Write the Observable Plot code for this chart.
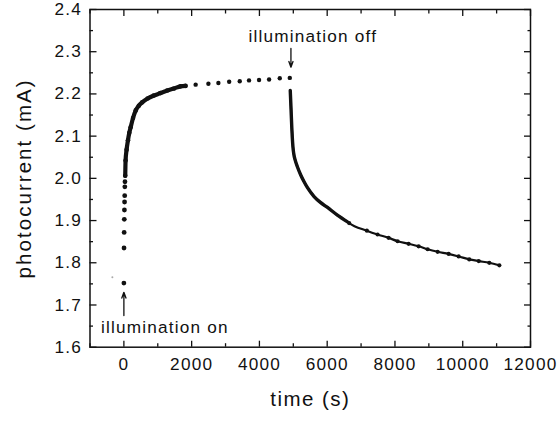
<!DOCTYPE html>
<html>
<head>
<meta charset="utf-8">
<script src="https://cdn.jsdelivr.net/npm/d3@7"></script>
<script src="https://cdn.jsdelivr.net/npm/@observablehq/plot@0.6"></script>
<style>
  html, body { margin: 0; padding: 0; background: #fff; }
  svg text { letter-spacing: 0.07em; }
</style>
</head>
<body>
<div id="chart"></div>
<script>
// ---- data (time in s, photocurrent in mA) ----
const preTime = [-340];
const preVal = [1.766];

const onsetTime = [0, 4, 8, 12, 16, 20, 24, 28, 32];
const onsetVal = [1.752, 1.835, 1.872, 1.903, 1.925, 1.944, 1.959, 1.980, 1.992];

const riseTime = [40, 50, 80, 120, 160, 200, 270, 350, 440, 540, 700, 880, 1080, 1280, 1480, 1670, 1820];
const riseVal = [2.006, 2.042, 2.068, 2.090, 2.108, 2.121, 2.143, 2.161, 2.172, 2.180, 2.189, 2.196, 2.202, 2.208, 2.213, 2.218, 2.219];

const plateauTime = [2118, 2494, 2789, 3107, 3419, 3693, 3989, 4285, 4601, 4896];
const plateauVal = [2.222, 2.224, 2.226, 2.229, 2.230, 2.232, 2.233, 2.234, 2.237, 2.238];

const decayTime = [4910, 4925, 4940, 4955, 4970, 4990, 5010, 5060, 5123, 5219, 5318, 5418, 5613, 5800, 6009, 6300, 6600];
const decayVal = [2.208, 2.180, 2.150, 2.121, 2.097, 2.074, 2.060, 2.042, 2.027, 2.008, 1.992, 1.978, 1.957, 1.943, 1.931, 1.913, 1.897];

const tailTime = [6648, 7171, 7487, 7812, 8078, 8403, 8698, 8964, 9260, 9585, 9880, 10193, 10471, 10784, 11080];
const tailVal = [1.894, 1.876, 1.867, 1.859, 1.851, 1.845, 1.839, 1.832, 1.826, 1.821, 1.815, 1.808, 1.804, 1.800, 1.794];

const xMajor = [0, 2000, 4000, 6000, 8000, 10000, 12000];
const xMinor = [-1000, 1000, 3000, 5000, 7000, 9000, 11000];
const yMajor = [1.6, 1.7, 1.8, 1.9, 2.0, 2.1, 2.2, 2.3, 2.4];
const yMinor = [1.65, 1.75, 1.85, 1.95, 2.05, 2.15, 2.25, 2.35];

const annText = ["illumination on", "illumination off"];
const annX = [1211, 5575];
const annY = [1.6462, 2.3372];

const arrowX = [0, 4930];
const arrowFrom = [1.675, 2.3076];
const arrowTo = [1.730, 2.2633];

const xTitle = "time (s)";
const yTitle = "photocurrent (mA)";

// ---- build tables ----
const zip = (t, v) => t.map((d, i) => ({t: d, v: v[i]}));
const pre = zip(preTime, preVal);
const onset = zip(onsetTime, onsetVal);
const rise = zip(riseTime, riseVal);
const plateau = zip(plateauTime, plateauVal);
const decay = zip(decayTime, decayVal);
const tail = zip(tailTime, tailVal);
const decayAll = decay.concat(tail);
const ann = annText.map((s, i) => ({s, t: annX[i], v: annY[i]}));
const arrows = arrowX.map((d, i) => ({t: d, v1: arrowFrom[i], v2: arrowTo[i]}));

const ink = "#111";
const fmtY = d3.format(".1f");
const fmtX = d3.format("d");

const chart = Plot.plot({
  width: 559,
  height: 421,
  marginLeft: 89.5,
  marginRight: 29,
  marginTop: 9,
  marginBottom: 74.3,
  style: {fontFamily: "'Liberation Sans', Arial, Helvetica, sans-serif", color: ink, background: "#fff"},
  x: {domain: [-1000, 12000]},
  y: {domain: [1.6, 2.4]},
  marks: [
    // ticks (inward) on all sides
    Plot.axisX(xMajor, {anchor: "bottom", tickSize: -6, tickFormat: () => "", label: null, strokeWidth: 1.3}),
    Plot.axisX(xMinor, {anchor: "bottom", tickSize: -3.5, tickFormat: () => "", label: null, strokeWidth: 1.3}),
    Plot.axisX(xMajor, {anchor: "top", tickSize: -6, tickFormat: () => "", label: null, strokeWidth: 1.3}),
    Plot.axisX(xMinor, {anchor: "top", tickSize: -3.5, tickFormat: () => "", label: null, strokeWidth: 1.3}),
    Plot.axisY(yMajor, {anchor: "left", tickSize: -7, tickFormat: () => "", label: null, strokeWidth: 1.3}),
    Plot.axisY(yMinor, {anchor: "left", tickSize: -3.5, tickFormat: () => "", label: null, strokeWidth: 1.3}),
    Plot.axisY(yMajor, {anchor: "right", tickSize: -7, tickFormat: () => "", label: null, strokeWidth: 1.3}),
    Plot.axisY(yMinor, {anchor: "right", tickSize: -3.5, tickFormat: () => "", label: null, strokeWidth: 1.3}),
    // tick labels
    Plot.axisX(xMajor, {anchor: "bottom", tickSize: 0, tickPadding: 11, tickFormat: fmtX, label: null, fontSize: 17.2, fill: ink}),
    Plot.axisY(yMajor, {anchor: "left", tickSize: 0, tickPadding: 8, tickFormat: fmtY, label: null, fontSize: 17.2, fill: ink}),
    // axis titles
    Plot.text([xTitle], {frameAnchor: "bottom", textAnchor: "middle", lineAnchor: "middle", dy: 52, fontSize: 20.5, fill: ink}),
    Plot.text([yTitle], {frameAnchor: "left", textAnchor: "middle", lineAnchor: "middle", rotate: -90, dx: -66, fontSize: 20.5, fill: ink}),
    Plot.frame({stroke: ink, strokeWidth: 1.5}),
    // data
    Plot.dot(pre, {x: "t", y: "v", r: 1, fill: "#aaa", stroke: null}),
    Plot.dot(onset, {x: "t", y: "v", r: 2.4, fill: ink, stroke: null}),
    Plot.line(rise, {x: "t", y: "v", stroke: ink, strokeWidth: 4.2, curve: "monotone-x"}),
    Plot.dot(rise, {x: "t", y: "v", r: 2.3, fill: ink, stroke: null}),
    Plot.dot(plateau, {x: "t", y: "v", r: 2.2, fill: ink, stroke: null}),
    Plot.line(decayAll, {x: "t", y: "v", stroke: ink, strokeWidth: 2.2, curve: "monotone-x"}),
    Plot.line(decay, {x: "t", y: "v", stroke: ink, strokeWidth: 3.4, curve: "monotone-x"}),
    Plot.dot(tail, {x: "t", y: "v", r: 2.1, fill: ink, stroke: null}),
    // annotations
    Plot.text(ann, {x: "t", y: "v", text: "s", fontSize: 17.2, fill: ink}),
    Plot.arrow(arrows, {x1: "t", y1: "v1", x2: "t", y2: "v2", stroke: ink, strokeWidth: 1.3, headLength: 7, headAngle: 40})
  ]
});

// wider tracking for the rotated y title, as in the reference
d3.select(chart).selectAll("text").filter(function () { return this.textContent === yTitle; })
  .style("letter-spacing", "0.1em");

document.getElementById("chart").appendChild(chart);
</script>
</body>
</html>
